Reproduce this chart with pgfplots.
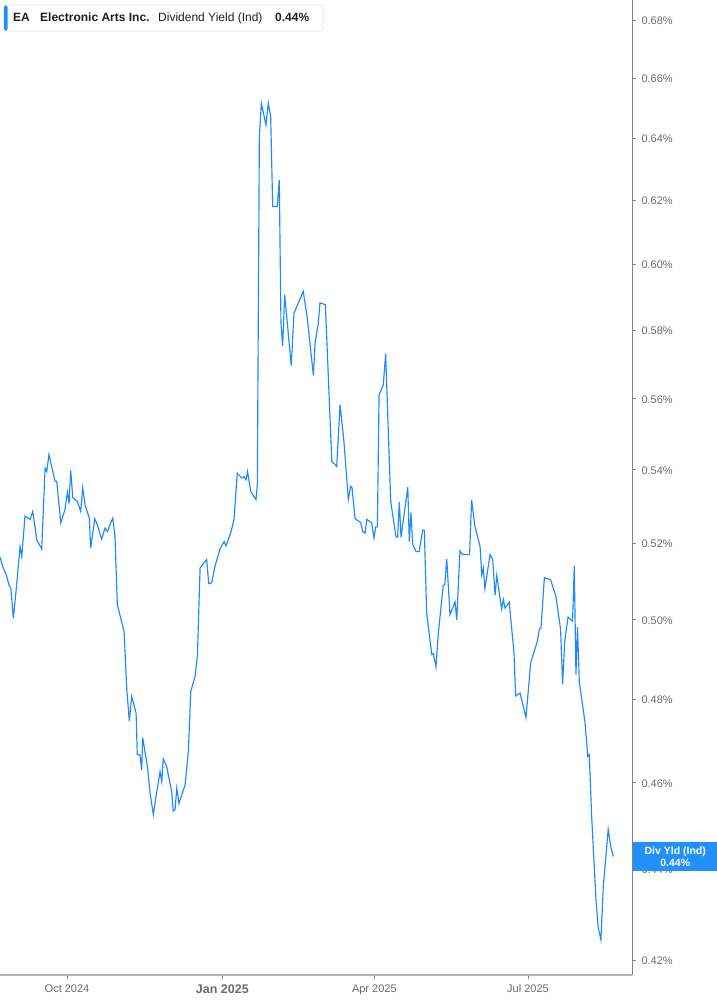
\documentclass[border=0pt]{standalone}
\usepackage{fontspec}
\setmainfont{Liberation Sans}
\usepackage{pgfplots}
\pgfplotsset{compat=1.18}
\definecolor{lineblue}{HTML}{1E88FF}
\definecolor{boxblue}{HTML}{2190F8}
\definecolor{ticktext}{HTML}{6B6B6B}
\definecolor{legtext}{HTML}{1F1F1F}
\begin{document}
\begin{tikzpicture}
\path[use as bounding box] (0bp,0bp) rectangle (717bp,1005bp);
\begin{axis}[
  at={(0bp,30bp)}, anchor=south west,
  scale only axis, width=632bp, height=975bp,
  xmin=-39.7, xmax=334.6,
  ymode=log, ymin=0.41679, ymax=0.6870,
  axis x line*=bottom, axis y line*=right,
  x axis line style={-, draw=black!30, line width=1.4bp},
  y axis line style={-, draw=black!50, line width=0.9bp},
  xtick={0,92,182,273},
  xticklabels={Oct 2024,{\raisebox{-2.5bp}{\fontsize{12.5bp}{14bp}\selectfont\bfseries Jan 2025}},Apr 2025,Jul 2025},
  ytick={0.42,0.44,0.46,0.48,0.50,0.52,0.54,0.56,0.58,0.60,0.62,0.64,0.66,0.68},
  yticklabels={0.42\%,0.44\%,0.46\%,0.48\%,0.50\%,0.52\%,0.54\%,0.56\%,0.58\%,0.60\%,0.62\%,0.64\%,0.66\%,0.68\%},
  yminorticks=false, xminorticks=false,
  tick align=outside,
  major tick length=4bp,
  tick style={draw=black!50, line width=0.8bp},
  ticklabel style={font=\fontsize{11bp}{13bp}\selectfont, text=ticktext},
  yticklabel style={anchor=west, xshift=2bp, yshift=-0.7bp},
  xticklabel style={anchor=north, yshift=-2.5bp},
]
\addplot[color=lineblue, line width=1.15bp] coordinates {
(-39.7,0.5164) (-38.1,0.5139) (-35.7,0.5113) (-34.2,0.5087) (-33.3,0.5083)
(-31.8,0.5004) (-30.2,0.5074) (-27.8,0.5191) (-26.8,0.5165) (-24.9,0.5273)
(-21.9,0.5264) (-20.3,0.5286) (-17.9,0.5209) (-15.0,0.5185) (-13.0,0.5404)
(-12.0,0.5395) (-10.7,0.5442) (-7.1,0.5368) (-6.1,0.5368) (-3.7,0.5255)
(-1.2,0.5291) (0.2,0.5338) (1.2,0.5307) (2.2,0.5398) (3.4,0.5323)
(6.1,0.5313) (8.1,0.5286) (9.3,0.5350) (10.7,0.5302) (13.2,0.5268)
(14.0,0.5187) (16.4,0.5266) (17.9,0.5250) (20.5,0.5211) (22.5,0.5241)
(23.9,0.5232) (27.1,0.5268) (28.4,0.5218) (29.8,0.5039) (33.8,0.4970)
(35.4,0.4824) (36.9,0.4747) (38.3,0.4807) (40.9,0.4767) (41.6,0.4666)
(43.2,0.4666) (44.2,0.4630) (44.8,0.4707) (47.6,0.4638) (49.2,0.4575)
(51.1,0.4525) (52.7,0.4567) (55.1,0.4626) (56.1,0.4602) (57.0,0.4656)
(59.0,0.4638) (62.0,0.4579) (62.9,0.4533) (64.0,0.4537) (65.0,0.4587)
(66.3,0.4551) (69.9,0.4594) (71.8,0.4671) (73.3,0.4820) (75.8,0.4857)
(77.2,0.4908) (78.8,0.5135) (82.7,0.5157) (83.9,0.5094) (85.7,0.5096)
(87.6,0.5139) (90.6,0.5185) (93.0,0.5205) (94.2,0.5193) (96.9,0.5227)
(98.9,0.5264) (100.8,0.5390) (103.5,0.5377) (104.8,0.5381) (106.0,0.5372)
(106.9,0.5395) (108.8,0.5340) (111.9,0.5318) (112.7,0.5359) (113.9,0.6405)
(115.1,0.6516) (117.8,0.6444) (119.2,0.6516) (120.6,0.6472) (121.8,0.6180)
(124.5,0.6180) (125.7,0.6265) (126.7,0.5821) (127.7,0.5754) (128.9,0.5907)
(132.8,0.5696) (134.4,0.5851) (139.9,0.5917) (142.3,0.5836) (145.9,0.5667)
(146.9,0.5762) (148.8,0.5821) (149.8,0.5882) (153.0,0.5877) (156.8,0.5423)
(159.7,0.5409) (161.7,0.5583) (164.0,0.5478) (166.6,0.5318) (168.0,0.5354)
(168.8,0.5350) (170.6,0.5266) (173.9,0.5256) (175.1,0.5232) (176.5,0.5227)
(177.5,0.5264) (180.4,0.5255) (181.8,0.5214) (182.8,0.5244) (183.8,0.5244)
(184.8,0.5611) (187.3,0.5640) (188.7,0.5731) (191.7,0.5313) (194.8,0.5218)
(195.8,0.5216) (196.8,0.5311) (197.8,0.5216) (201.8,0.5352) (202.7,0.5205)
(203.7,0.5283) (204.7,0.5198) (206.7,0.5178) (208.6,0.5178) (210.6,0.5235)
(211.6,0.5235) (213.0,0.5017) (216.0,0.4912) (216.9,0.4914) (218.5,0.4881)
(219.9,0.4966) (222.8,0.5089) (223.7,0.5091) (224.9,0.5158) (226.8,0.5013)
(229.8,0.5046) (230.8,0.5000) (232.7,0.5180) (234.3,0.5170) (238.4,0.5170)
(239.6,0.5317) (241.6,0.5245) (244.6,0.5192) (245.6,0.5117) (246.5,0.5135)
(247.5,0.5080) (250.5,0.5170) (252.1,0.5157) (253.5,0.5063) (254.5,0.5115)
(257.4,0.5028) (258.4,0.5052) (259.4,0.5030) (261.9,0.5045) (264.7,0.4916)
(265.7,0.4809) (268.3,0.4816) (271.8,0.4756) (274.6,0.4891) (278.5,0.4945)
(279.7,0.4976) (280.7,0.4979) (282.7,0.5109) (286.4,0.5104) (289.6,0.5059)
(292.3,0.4975) (293.5,0.4838) (294.7,0.4943) (296.7,0.5007) (299.4,0.4997)
(300.4,0.5140) (301.4,0.4862) (302.3,0.4981) (303.4,0.4843) (306.8,0.4743)
(308.4,0.4662) (309.3,0.4666) (310.7,0.4521) (313.3,0.4329) (314.6,0.4270)
(316.2,0.4244) (317.6,0.4362) (320.5,0.4491) (322.0,0.4452) (323.5,0.4429)
};
\end{axis}
% legend box
\draw[draw=black!12, fill=white, rounded corners=3bp, line width=0.6bp] (4bp,974bp) rectangle (323bp,1000bp);
\fill[boxblue, rounded corners=1.5bp] (4bp,974.3bp) rectangle (7.5bp,999.7bp);
\node[anchor=base west, inner sep=0pt, text=legtext, font=\fontsize{12bp}{14bp}\selectfont\bfseries] at (13bp,983bp) {EA};
\node[anchor=base west, inner sep=0pt, text=legtext, font=\fontsize{12bp}{14bp}\selectfont\bfseries] at (40bp,983bp) {Electronic Arts Inc.};
\node[anchor=base west, inner sep=0pt, text=legtext, font=\fontsize{12bp}{14bp}\selectfont] at (158bp,983bp) {Dividend Yield (Ind)};
\node[anchor=base west, inner sep=0pt, text=legtext, font=\fontsize{12bp}{14bp}\selectfont\bfseries] at (275bp,983bp) {0.44\%};
% last value box (covers the 0.44% tick label as in the reference)
\node[fill=boxblue, text=white, anchor=west, inner sep=0pt, minimum width=84bp, minimum height=29bp, align=center,
      font=\fontsize{10.5bp}{12bp}\selectfont\bfseries] at (633bp,148bp) {Div Yld (Ind)\\0.44\%};
\end{tikzpicture}
\end{document}
